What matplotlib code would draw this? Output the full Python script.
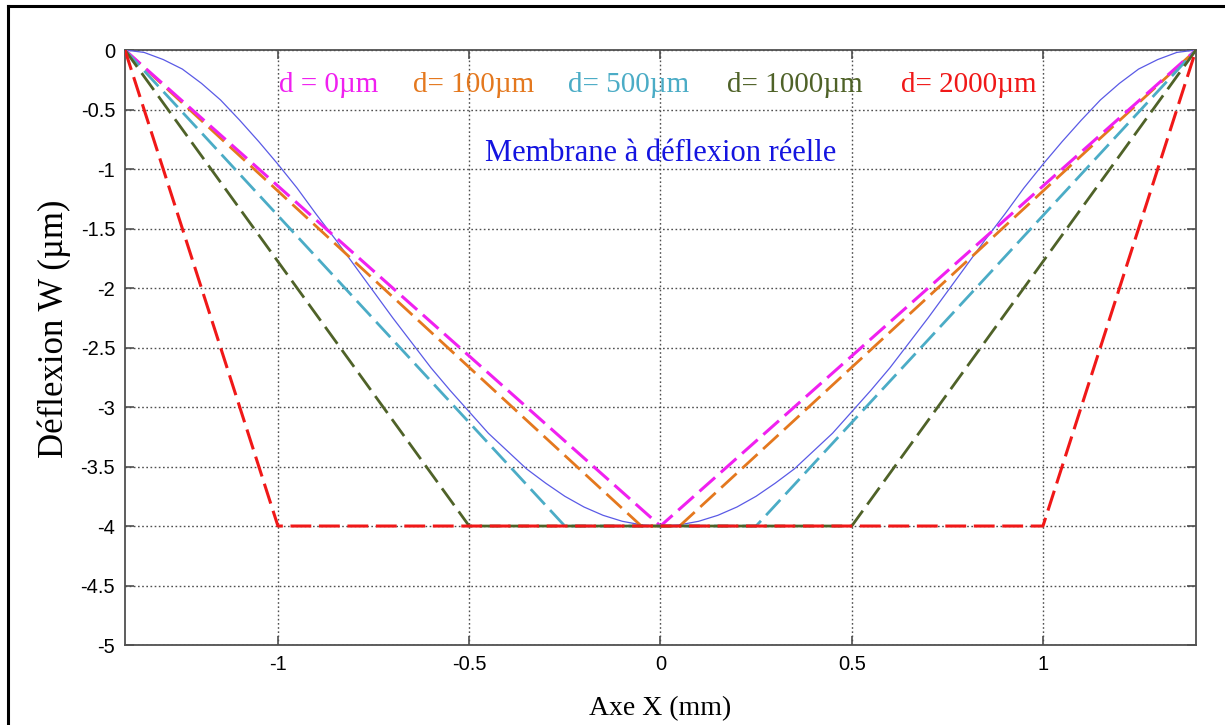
import matplotlib
matplotlib.use("Agg")
import matplotlib.pyplot as plt
from matplotlib.lines import Line2D

# Membrane réelle
x_real = [-1.4, -1.35, -1.3, -1.25, -1.2, -1.15, -1.1, -1.05, -1.0, -0.95, -0.9, -0.85,
          -0.8, -0.75, -0.7, -0.65, -0.6, -0.55, -0.5, -0.45, -0.4, -0.35, -0.3, -0.25,
          -0.2, -0.15, -0.1, -0.05, 0.0, 0.05, 0.1, 0.15, 0.2, 0.25, 0.3, 0.35, 0.4,
          0.45, 0.5, 0.55, 0.6, 0.65, 0.7, 0.75, 0.8, 0.85, 0.9, 0.95, 1.0, 1.05, 1.1,
          1.15, 1.2, 1.25, 1.3, 1.35, 1.4]
w_real = [0.0, -0.02, -0.08, -0.16, -0.28, -0.42, -0.59, -0.77, -0.96, -1.16, -1.38, -1.59,
          -1.81, -2.03, -2.25, -2.46, -2.67, -2.86, -3.04, -3.22, -3.37, -3.52, -3.64, -3.75,
          -3.84, -3.91, -3.96, -3.99, -4.0, -3.99, -3.96, -3.91, -3.84, -3.75, -3.64, -3.52, -3.37,
          -3.22, -3.04, -2.86, -2.67, -2.46, -2.25, -2.03, -1.81, -1.59, -1.38, -1.16, -0.96, -0.77, -0.59,
          -0.42, -0.28, -0.16, -0.08, -0.02, 0.0]

# Profils trapézoïdaux pour chaque largeur d (mm)
x_d0 = [-1.4, 0.0, 1.4]
w_d0 = [0.0, -4.0, 0.0]
x_d100 = [-1.4, -0.05, 0.05, 1.4]
w_d100 = [0.0, -4.0, -4.0, 0.0]
x_d500 = [-1.4, -0.25, 0.25, 1.4]
w_d500 = [0.0, -4.0, -4.0, 0.0]
x_d1000 = [-1.4, -0.5, 0.5, 1.4]
w_d1000 = [0.0, -4.0, -4.0, 0.0]
x_d2000 = [-1.4, -1.0, 1.0, 1.4]
w_d2000 = [0.0, -4.0, -4.0, 0.0]

labels = ["d = 0\u00b5m", "d= 100\u00b5m", "d= 500\u00b5m", "d= 1000\u00b5m", "d= 2000\u00b5m"]
label_x = [-0.997, -0.647, -0.241, 0.175, 0.628]

xticks = [-1, -0.5, 0, 0.5, 1]
yticks = [0, -0.5, -1, -1.5, -2, -2.5, -3, -3.5, -4, -4.5, -5]

c_mag = "#F020F0"
c_ora = "#E4781E"
c_cya = "#4BACC6"
c_olv = "#4F6228"
c_red = "#F01818"
c_blue = "#5A5AE6"

plt.rcParams["lines.scale_dashes"] = False
serif = "Liberation Serif"
sans = "Liberation Sans"

fig = plt.figure(figsize=(12.25, 7.25), dpi=100)
ax = fig.add_axes([0.102, 0.1103, 0.8743, 0.8207])

dash = (0, (15, 5.5))
ax.plot(x_real, w_real, color=c_blue, lw=0.9, zorder=3)
ax.plot(x_d100, w_d100, color=c_ora, lw=2.0, linestyle=dash, zorder=3)
ax.plot(x_d0, w_d0, color=c_mag, lw=2.2, linestyle=dash, zorder=4)
ax.plot(x_d500, w_d500, color=c_cya, lw=2.0, linestyle=dash, zorder=4)
ax.plot(x_d1000, w_d1000, color=c_olv, lw=2.0, linestyle=dash, zorder=5)
ax.plot(x_d2000, w_d2000, color=c_red, lw=2.2, linestyle=dash, zorder=6)

ax.set_xlim(-1.4, 1.4)
ax.set_ylim(-5, 0)
ax.set_xticks(xticks)
ax.set_xticklabels([f"{v:g}" for v in xticks])
ax.set_yticks(yticks)
ax.set_yticklabels([f"{v:g}" for v in yticks])
ax.grid(True, color="#505050", linestyle=(0, (1.2, 1.8)), lw=1.0)
ax.tick_params(direction="in", length=6.5, width=1.2, color="#505050",
               top=True, right=True, labelsize=14.5, pad=7)
for lab in ax.get_xticklabels() + ax.get_yticklabels():
    lab.set_family(sans)
for sp in ax.spines.values():
    sp.set_color("#505050")
    sp.set_linewidth(1.3)

colors = [c_mag, c_ora, c_cya, c_olv, c_red]
for txt, xx, cc in zip(labels, label_x, colors):
    ax.text(xx, -0.29, txt, color=cc, family=serif, fontsize=21,
            ha="left", va="center", zorder=7)
ax.text(-0.458, -0.87, "Membrane \u00e0 d\u00e9flexion r\u00e9elle", color="#1414E0",
        family=serif, fontsize=22, ha="left", va="center", zorder=7)

ax.set_xlabel("Axe X (mm)", family=serif, fontsize=20, labelpad=16)
ax.set_ylabel("D\u00e9flexion W (\u00b5m)", family=serif, fontsize=25)
ax.yaxis.set_label_coords(-0.050, 0.532)

# cadre de la figure (gauche et haut)
fig.add_artist(Line2D([0.0065, 0.0065], [0.0, 0.9917], color="black", lw=2.2,
                      transform=fig.transFigure))
fig.add_artist(Line2D([0.0065, 1.0], [0.9917, 0.9917], color="black", lw=2.2,
                      transform=fig.transFigure))

fig.savefig("out.png", dpi=100)
